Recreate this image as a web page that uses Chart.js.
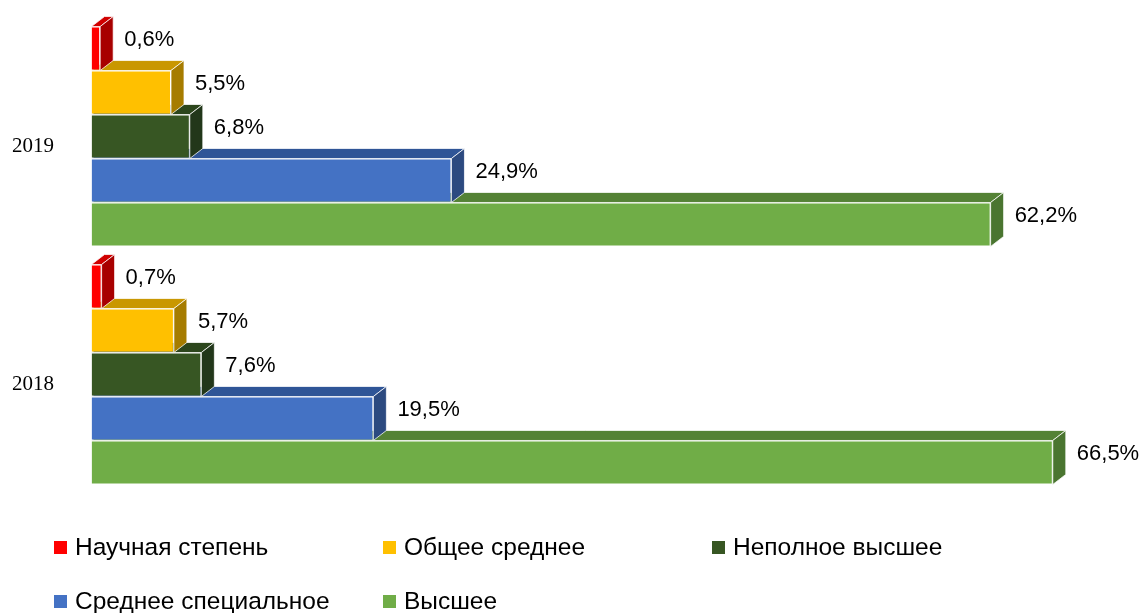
<!DOCTYPE html>
<html lang="ru">
<head>
<meta charset="utf-8">
<title>Образование</title>
<script src="https://cdn.jsdelivr.net/npm/chart.js@4.4.1/dist/chart.umd.min.js"></script>
<style>
    html, body {
        margin: 0;
        padding: 0;
        background: #ffffff;
    }
    .wrap {
        position: relative;
        width: 1145px;
        height: 613px;
        overflow: hidden;
    }
    .wrap canvas {
        display: block;
    }
    .legend-item {
        position: absolute;
        font-family: "Liberation Sans", Arial, sans-serif;
        font-size: 24.5px;
        color: #000000;
        white-space: nowrap;
        line-height: 24px;
    }
    .legend-item i {
        display: inline-block;
        width: 13px;
        height: 13px;
        margin-right: 8px;
        vertical-align: 1px;
    }
</style>
</head>
<body>
<div class="wrap">
    <canvas id="eduChart" width="1145" height="613"></canvas>
    <div id="legend"></div>
</div>
<script>
// Data
const categories = ['2019', '2018'];
const seriesNames = ['Научная степень', 'Общее среднее', 'Неполное высшее', 'Среднее специальное', 'Высшее'];
const nauchnayaStepen = [0.6, 0.7];
const obscheeSrednee = [5.5, 5.7];
const nepolnoeVysshee = [6.8, 7.6];
const sredneeSpecialnoe = [24.9, 19.5];
const vysshee = [62.2, 66.5];

// Colours: front, top and side faces
const frontColors = ['#FF0000', '#FFC000', '#375623', '#4472C4', '#70AD47'];
const topColors = ['#D00000', '#C99700', '#2C461C', '#2F5597', '#548235'];
const sideColors = ['#A80000', '#A67C00', '#22371A', '#2C4A80', '#4A7530'];

const depthX = 13;
const depthY = 10;

// Draws the top and side faces of each bar right after its dataset is drawn,
// so upper series (drawn later) cover the top faces of the ones below
const bar3d = {
    id: 'bar3d',
    afterDatasetDraw(chart, args) {
        const ctx = chart.ctx;
        const i = args.index;
        ctx.save();
        ctx.lineWidth = 1;
        ctx.strokeStyle = 'rgba(255,255,255,0.75)';
        args.meta.data.forEach(bar => {
            const p = bar.getProps(['x', 'y', 'base', 'height'], true);
            const top = p.y - p.height / 2;
            const bottom = p.y + p.height / 2;

            // top face
            ctx.beginPath();
            ctx.moveTo(p.base, top);
            ctx.lineTo(p.base + depthX, top - depthY);
            ctx.lineTo(p.x + depthX, top - depthY);
            ctx.lineTo(p.x, top);
            ctx.closePath();
            ctx.fillStyle = topColors[i];
            ctx.fill();
            ctx.stroke();

            // side face
            ctx.beginPath();
            ctx.moveTo(p.x, top);
            ctx.lineTo(p.x + depthX, top - depthY);
            ctx.lineTo(p.x + depthX, bottom - depthY);
            ctx.lineTo(p.x, bottom);
            ctx.closePath();
            ctx.fillStyle = sideColors[i];
            ctx.fill();
            ctx.stroke();
        });
        ctx.restore();
    },
    afterDatasetsDraw(chart) {
        // value labels
        const ctx = chart.ctx;
        ctx.save();
        ctx.font = '22px "Liberation Sans", Arial, sans-serif';
        ctx.fillStyle = '#000000';
        ctx.textAlign = 'left';
        ctx.textBaseline = 'middle';
        chart.data.datasets.forEach((ds, i) => {
            const meta = chart.getDatasetMeta(i);
            meta.data.forEach((bar, j) => {
                const p = bar.getProps(['x', 'y'], true);
                const txt = ds.data[j].toFixed(1).replace('.', ',') + '%';
                ctx.fillText(txt, p.x + depthX + 11, p.y - 9);
            });
        });
        ctx.restore();
    }
};

const seriesData = [nauchnayaStepen, obscheeSrednee, nepolnoeVysshee, sredneeSpecialnoe, vysshee];

const ctx = document.getElementById('eduChart').getContext('2d');
new Chart(ctx, {
    type: 'bar',
    data: {
        labels: categories,
        datasets: seriesNames.map((name, i) => ({
            label: name,
            data: seriesData[i],
            backgroundColor: frontColors[i],
            borderColor: 'rgba(255,255,255,0.75)',
            borderWidth: 1,
            categoryPercentage: 0.924,
            barPercentage: 1.0
        }))
    },
    options: {
        indexAxis: 'y',
        responsive: false,
        animation: false,
        layout: {
            padding: { left: 12, right: 12.7, top: 17.5, bottom: 119.5 }
        },
        plugins: {
            legend: { display: false },
            tooltip: { enabled: false }
        },
        scales: {
            x: {
                display: false,
                min: 0,
                max: 72
            },
            y: {
                afterFit: function(scale) {
                    scale.width = 79.5;
                },
                grid: { display: false, drawTicks: false },
                border: { display: false },
                ticks: {
                    padding: 0,
                    crossAlign: 'far',
                    labelOffset: 10,
                    color: '#000000',
                    font: { family: '"Liberation Serif", "Times New Roman", serif', size: 21 }
                }
            }
        }
    },
    plugins: [bar3d]
});

// HTML legend, two rows of three columns
const legend = document.getElementById('legend');
const colX = [54, 383, 712];
const rowY = [535, 589];
seriesNames.forEach((name, i) => {
    const item = document.createElement('div');
    item.className = 'legend-item';
    item.style.left = colX[i % 3] + 'px';
    item.style.top = rowY[Math.floor(i / 3)] + 'px';
    item.innerHTML = '<i style="background:' + frontColors[i] + '"></i>' + name;
    legend.appendChild(item);
});
</script>
</body>
</html>
